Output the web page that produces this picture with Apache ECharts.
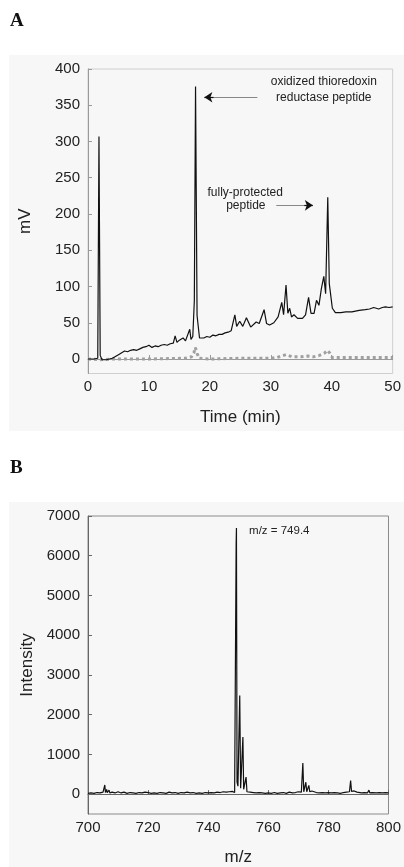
<!DOCTYPE html>
<html>
<head>
<meta charset="utf-8">
<script src="https://cdn.jsdelivr.net/npm/echarts@6/dist/echarts.min.js"></script>
<style>
html,body{margin:0;padding:0;background:#ffffff;}
#c{width:404px;height:867px;}
</style>
</head>
<body>
<div id="c"></div>
<script>
// ---- Panel A: chromatogram (time in min, signal in mV) ----
var chromTime   = [0, 1.0, 1.6, 1.8, 2.0, 2.3, 3.0, 4.0, 5.0, 6.0, 6.5, 7.0, 7.5, 8.0, 8.5, 9.0, 9.5, 10.0, 10.5, 11.0, 11.5, 12.0, 12.5, 13.0, 13.5, 14.0, 14.3, 14.6, 15.0, 15.3, 15.6, 16.0, 16.3, 16.7, 16.9, 17.2, 17.45, 17.65, 17.9, 18.3, 19.0, 19.5, 20.0, 20.5, 21.0, 21.5, 22.0, 22.5, 23.0, 23.5, 23.8, 24.1, 24.4, 24.9, 25.4, 26.0, 26.7, 27.6, 28.1, 28.9, 29.3, 29.8, 30.5, 31.2, 31.8, 32.1, 32.5, 32.8, 33.1, 33.4, 33.8, 34.4, 35.2, 35.7, 36.2, 36.6, 37.1, 37.5, 37.9, 38.3, 38.7, 39.0, 39.35, 39.6, 40.1, 40.6, 41.5, 42.3, 43.3, 44.5, 45.5, 46.2, 46.9, 47.7, 48.3, 48.8, 49.4, 50.0];
var chromSignal = [0, 0, 1, 307, 5, -1, -1, 1, 6, 11, 10, 12, 13, 12, 14, 16, 17, 19, 16, 18, 17, 19, 20, 19, 21, 22, 32, 23, 26, 24, 29, 25, 27, 41, 27, 31, 80, 376, 60, 29, 29, 31, 30, 33, 32, 34, 34, 36, 37, 39, 38, 61, 45, 52, 45, 57, 44, 51, 49, 68, 49, 47, 50, 58, 78, 61, 102, 63, 70, 58, 61, 56, 56, 61, 85, 63, 63, 81, 74, 97, 114, 90, 223, 104, 70, 64, 64, 65, 65, 67, 68, 69, 71, 69, 71, 72, 71, 72];
var blankTime   = [0, 2, 4, 10, 16, 17.0, 17.4, 17.6, 17.9, 18.2, 20, 25, 30, 31, 32.5, 33.5, 35, 36, 37, 38, 38.8, 39.3, 39.7, 40.1, 45, 50];
var blankSignal = [0, -1, 0, 0, 1, 3, 9, 16, 8, 1, 0, 1, 1, 2, 6, 3, 3, 4, 3, 5, 8, 12, 8, 2, 2, 2];
var chromXTicks = [0, 10, 20, 30, 40, 50];
var chromYTicks = [0, 50, 100, 150, 200, 250, 300, 350, 400];

// ---- Panel B: mass spectrum (m/z vs intensity) ----
var msMz = [700, 701, 702, 703, 704, 705, 705.4, 705.6, 705.8, 706.2, 706.4, 707, 707.3, 708, 709, 710, 711, 712, 713, 714, 715, 716, 717, 718, 719, 720, 721, 722, 723, 724, 725, 726, 727, 728, 729, 730, 731, 732, 733, 734, 735, 736, 737, 738, 739, 740, 741, 742, 743, 744, 745, 745.5, 746, 746.5, 747, 748, 748.8, 749.0, 749.3, 749.4, 749.6, 749.9, 750.5, 750.8, 751.1, 751.55, 751.8, 752.2, 752.6, 752.9, 753.5, 754, 755, 756, 757, 758, 759, 760, 761, 762, 763, 764, 765, 766, 767, 768, 769, 770, 771, 771.3, 771.5, 771.8, 772.2, 772.5, 772.8, 773.2, 773.5, 773.8, 774.5, 775, 776, 777, 778, 779, 780, 781, 782, 783, 784, 785, 786, 787, 787.4, 787.7, 788.2, 788.6, 789, 789.5, 790, 791, 792, 793, 793.5, 793.8, 794.5, 795, 796, 797, 798, 799, 800];
var msIntensity = [20, 30, 20, 40, 30, 50, 60, 230, 40, 120, 40, 100, 30, 50, 30, 60, 30, 50, 20, 40, 30, 20, 40, 30, 50, 40, 20, 30, 20, 40, 30, 20, 50, 30, 40, 20, 40, 30, 50, 30, 40, 20, 30, 20, 40, 30, 40, 30, 50, 40, 60, 90, 50, 80, 60, 70, 40, 40, 6280, 6700, 300, 200, 2480, 150, 100, 1440, 120, 80, 430, 60, 80, 50, 40, 30, 40, 30, 20, 30, 20, 40, 20, 30, 40, 20, 50, 30, 40, 60, 50, 40, 780, 60, 50, 300, 60, 50, 220, 60, 80, 50, 40, 30, 40, 30, 40, 30, 40, 30, 20, 40, 50, 60, 340, 70, 100, 80, 90, 50, 40, 30, 40, 30, 100, 30, 40, 60, 30, 40, 30, 40, 30];
var msXTicks = [700, 720, 740, 760, 780, 800];
var msYTicks = [0, 1000, 2000, 3000, 4000, 5000, 6000, 7000];

function zip(a, b) { var r = []; for (var i = 0; i < a.length; i++) r.push([a[i], b[i]]); return r; }
function plain(v) { return String(v); }

var FONT = 'Liberation Sans';
var chart = echarts.init(document.getElementById('c'), null, {renderer: 'canvas'});

function textPoint(coord, txt, size, align) {
  return {
    coord: coord, value: txt, symbol: 'circle', symbolSize: 0,
    label: {show: true, position: 'inside', formatter: txt, color: '#222',
      fontFamily: FONT, fontSize: size, align: align || 'center', verticalAlign: 'middle'}
  };
}

var option = {
  animation: false,
  backgroundColor: '#ffffff',
  graphic: [
    {type: 'rect', shape: {x: 9, y: 55, width: 395, height: 376}, style: {fill: '#f7f7f7'}, z: -10, silent: true},
    {type: 'rect', shape: {x: 9, y: 502, width: 395, height: 365}, style: {fill: '#f7f7f7'}, z: -10, silent: true},
    {type: 'text', left: 10, top: 12, style: {text: 'A', font: 'bold 19px "Liberation Serif"', fill: '#111'}},
    {type: 'text', left: 10, top: 459, style: {text: 'B', font: 'bold 19px "Liberation Serif"', fill: '#111'}}
  ],
  grid: [
    {left: 88, top: 69, right: 10, height: 304.5, show: true, borderColor: '#cfcfcf', borderWidth: 1, backgroundColor: 'transparent'},
    {left: 88, top: 516, right: 14, height: 300, show: true, borderColor: '#8a8a8a', borderWidth: 1, backgroundColor: 'transparent'}
  ],
  xAxis: [
    {gridIndex: 0, type: 'value', min: 0, max: 50, interval: 10,
      name: 'Time (min)', nameLocation: 'middle', nameGap: 35,
      nameTextStyle: {fontFamily: FONT, fontSize: 17, color: '#222'},
      axisLine: {lineStyle: {color: '#9a9a9a', width: 1}},
      axisTick: {inside: true, length: 4, lineStyle: {color: '#9a9a9a'}, customValues: chromXTicks},
      axisLabel: {fontFamily: FONT, fontSize: 15, color: '#222', margin: 6, customValues: chromXTicks, formatter: plain},
      splitLine: {show: false}},
    {gridIndex: 1, type: 'value', min: 700, max: 800, interval: 20,
      name: 'm/z', nameLocation: 'middle', nameGap: 35,
      nameTextStyle: {fontFamily: FONT, fontSize: 17, color: '#222'},
      axisLine: {lineStyle: {color: '#666', width: 1}},
      axisTick: {inside: true, length: 4, lineStyle: {color: '#666'}, customValues: msXTicks},
      axisLabel: {fontFamily: FONT, fontSize: 15, color: '#222', margin: 6, customValues: msXTicks, formatter: plain},
      splitLine: {show: false}}
  ],
  yAxis: [
    {gridIndex: 0, type: 'value', min: -20, max: 400,
      name: 'mV', nameLocation: 'middle', nameGap: 54,
      nameTextStyle: {fontFamily: FONT, fontSize: 17, color: '#222'},
      axisLine: {show: true, lineStyle: {color: '#9a9a9a', width: 1}},
      axisTick: {show: true, inside: true, length: 4, lineStyle: {color: '#9a9a9a'}, customValues: chromYTicks},
      axisLabel: {fontFamily: FONT, fontSize: 15, color: '#222', margin: 8, customValues: chromYTicks, formatter: plain},
      splitLine: {show: false}},
    {gridIndex: 1, type: 'value', min: -500, max: 7000,
      name: 'Intensity', nameLocation: 'middle', nameGap: 50,
      nameTextStyle: {fontFamily: FONT, fontSize: 17, color: '#222'},
      axisLine: {show: true, lineStyle: {color: '#666', width: 1}},
      axisTick: {show: true, inside: true, length: 4, lineStyle: {color: '#666'}, customValues: msYTicks},
      axisLabel: {fontFamily: FONT, fontSize: 15, color: '#222', margin: 8, customValues: msYTicks, formatter: plain},
      splitLine: {show: false}}
  ],
  series: [
    {type: 'line', xAxisIndex: 0, yAxisIndex: 0, data: zip(blankTime, blankSignal),
      showSymbol: false, lineStyle: {color: '#a0a0a0', width: 3, type: [3, 3], cap: 'butt'}, z: 2},
    {type: 'line', xAxisIndex: 0, yAxisIndex: 0, data: zip(chromTime, chromSignal),
      showSymbol: false, lineStyle: {color: '#111', width: 1.2}, z: 3,
      markLine: {silent: true, symbol: ['none', 'none'], label: {show: false},
        lineStyle: {color: '#888', width: 1, type: 'solid'},
        data: [
          [{coord: [27.8, 361]}, {coord: [20.5, 361]}],
          [{coord: [30.9, 212]}, {coord: [35.6, 212]}]
        ]},
      markPoint: {silent: true, data: [
        textPoint([38.7, 382], 'oxidized thioredoxin', 12),
        textPoint([38.7, 361], 'reductase peptide', 12),
        textPoint([25.8, 230], 'fully-protected', 12),
        textPoint([25.9, 211], 'peptide', 12)
      ]}},
    {type: 'line', xAxisIndex: 0, yAxisIndex: 0, data: [],
      markLine: {silent: true, symbol: ['none', 'arrow'], symbolSize: 8, label: {show: false},
        lineStyle: {color: '#111', width: 1.2, type: 'solid'},
        data: [
          [{coord: [20.6, 361]}, {coord: [19.1, 361]}],
          [{coord: [35.5, 212]}, {coord: [36.9, 212]}]
        ]}},
    {type: 'line', xAxisIndex: 1, yAxisIndex: 1, data: zip(msMz, msIntensity),
      showSymbol: false, lineStyle: {color: '#111', width: 1.2}, z: 3,
      markPoint: {silent: true, data: [
        textPoint([753.6, 6625], 'm/z = 749.4', 11.5, 'left')
      ]}}
  ]
};
chart.setOption(option);
</script>
</body>
</html>
